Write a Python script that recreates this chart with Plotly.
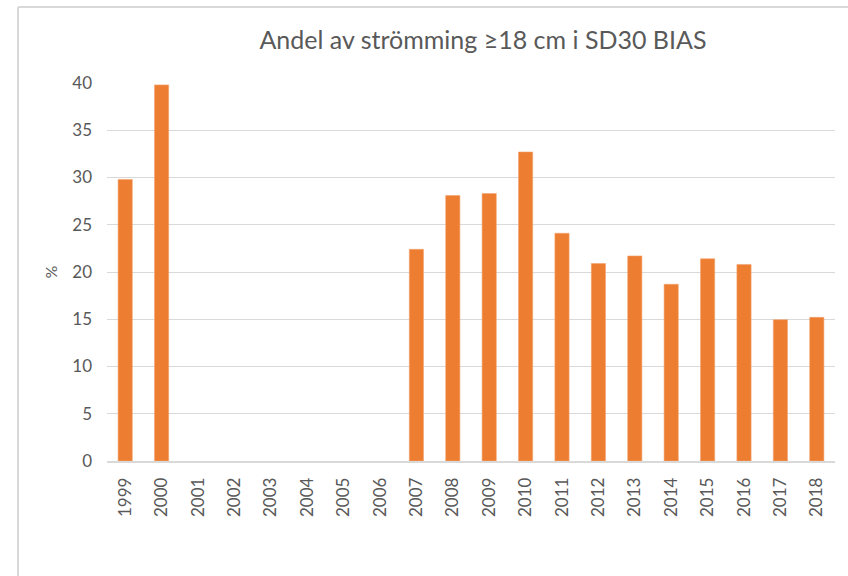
import plotly.graph_objects as go

years = [str(y) for y in range(1999, 2019)]
values = [29.8, 39.8, None, None, None, None, None, None, 22.4, 28.1,
          28.3, 32.7, 24.1, 20.9, 21.7, 18.7, 21.4, 20.8, 14.95, 15.2]
y_ticks = [0, 5, 10, 15, 20, 25, 30, 35, 40]
title_text = "Andel av strömming ≥18 cm i SD30 BIAS"
y_title = "%"

W, H = 848, 576
L, R, T, B = 107, 13, 83, 115
pw, ph = W - L - R, H - T - B

def px(x):
    return (x - L) / pw

def py(y):
    return (H - B - y) / ph

fig = go.Figure()
fig.add_trace(go.Bar(
    x=years, y=values,
    marker=dict(color="#ED7D31", line=dict(color="#F4A470", width=0.6)),
    width=0.39,
))

font = "Lato, 'Open Sans', sans-serif"
fig.update_layout(
    width=W, height=H,
    margin=dict(l=L, r=R, t=T, b=B, autoexpand=False),
    paper_bgcolor="white", plot_bgcolor="white",
    showlegend=False,
    font=dict(family=font, color="#595959", size=17),
    title=dict(text=title_text, x=438 / W, xanchor="center", xref="paper",
               y=1 - 40 / H, yanchor="middle",
               font=dict(size=25, color="#595959", family=font)),
    xaxis=dict(
        type="category", tickangle=-90, showgrid=False,
        showline=True, linecolor="#d9d9d9", linewidth=1.5,
        ticks="", tickfont=dict(size=17, color="#595959"),
        ticklabelstandoff=8,
    ),
    yaxis=dict(
        range=[0, 40], tickvals=y_ticks, showgrid=True,
        gridcolor="#d9d9d9", gridwidth=1.3, zeroline=False,
        showline=False, ticks="", tickfont=dict(size=17, color="#595959"),
        ticklabelstandoff=14,
        title=dict(text=y_title, standoff=10, font=dict(size=16, color="#595959")),
    ),
    shapes=[
        dict(type="line", xref="paper", yref="paper",
             x0=px(18), x1=px(W + 5), y0=py(7), y1=py(7),
             line=dict(color="#d9d9d9", width=2)),
        dict(type="line", xref="paper", yref="paper",
             x0=px(18), x1=px(18), y0=py(7), y1=py(H + 5),
             line=dict(color="#d9d9d9", width=2)),
    ],
)

fig.write_html("out.html",
               config={"displayModeBar": False},
               post_script="document.body.style.margin='0';document.body.style.padding='0';")
